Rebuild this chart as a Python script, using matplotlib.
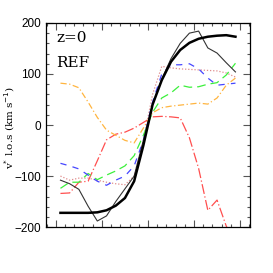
import matplotlib
matplotlib.use("Agg")
import matplotlib.pyplot as plt
from matplotlib.ticker import MultipleLocator, NullFormatter

# sampling positions along the slit
pos = [-1.9, -1.7, -1.5, -1.3, -1.1, -0.9, -0.7, -0.5, -0.3, -0.1,
       0.1, 0.3, 0.5, 0.7, 0.9, 1.1, 1.3, 1.5, 1.7, 1.9]

v_model = [-172, -172, -172, -172, -171, -167, -158, -143, -110, -40,
           40, 88, 124, 147, 161, 169, 173, 175, 176, 173]
v_thin = [-108, -115, -126, -159, -188, -178, -150, -125, -100, -30,
          40, 90, 130, 160, 180, 184, 151, 141, 122, 104]
v_blue = [-75, -80, -86, -98, -110, -118, -108, -100, -80, -30,
          45, 100, 118, 118, 120, 110, 92, 78, 80, 82]
v_green = [-124, -112, -112, -95, -107, -98, -90, -80, -60, -20,
           25, 53, 63, 78, 74, 75, 80, 83, 98, 121]
v_orange = [82, 80, 73, 45, 15, -10, -20, -30, -35, -6,
            24, 34, 37, 39, 41, 43, 41, 53, 78, 92]
v_red = [-134, -133, -112, -110, -70, -29, -18, -14, -6, 5,
         16, 17, 16, 14, -25, -85, -167, -147, -198, -230]
v_pink = [-100, -108, -104, -104, -108, -112, -115, -117, -100, -30,
          60, 115, 112, 110, 109, 108, 107, 106, 102, 94]

fig = plt.figure(figsize=(2.73, 2.73), dpi=100)
ax = fig.add_axes([0.168, 0.168, 0.748, 0.748])

ax.plot(pos, v_pink, color="#e08c8c", lw=0.9, ls=(0, (1, 1.5)))
ax.plot(pos, v_red, color="#ff4f4f", lw=0.9, ls=(0, (8, 2, 1, 2)))
ax.plot(pos, v_orange, color="#ffb540", lw=0.9, ls=(0, (5, 2, 1, 2)))
ax.plot(pos, v_green, color="#3cf03c", lw=0.9, ls=(0, (7, 4)))
ax.plot(pos, v_blue, color="#4646ff", lw=0.9, ls=(0, (5, 5)))
ax.plot(pos, v_thin, color="#333333", lw=0.8)
ax.plot(pos, v_model, color="black", lw=1.8)

ax.set_xlim(-2.217, 2.217)
ax.set_ylim(-200, 200)
ax.xaxis.set_major_locator(MultipleLocator(1))
ax.xaxis.set_minor_locator(MultipleLocator(0.2))
ax.xaxis.set_major_formatter(NullFormatter())
ax.yaxis.set_major_locator(MultipleLocator(100))
ax.yaxis.set_minor_locator(MultipleLocator(20))
ax.tick_params(which="both", direction="in", top=True, right=True, width=0.8,
               colors="#555555", labelcolor="black")
ax.tick_params(which="major", length=5)
ax.tick_params(which="minor", length=2.5)
for lab in ax.get_yticklabels():
    lab.set_family("Liberation Sans")
    lab.set_fontsize(8.5)
for s in ax.spines.values():
    s.set_linewidth(0.9)

ax.set_ylabel(r"v$^{*}$ l.o.s (km s$^{-1}$)", family="DejaVu Serif",
              fontsize=7.5)
ax.yaxis.set_label_coords(-0.14, 0.49)
ax.text(0.05, 0.96, "z=0", transform=ax.transAxes, family="DejaVu Serif",
        fontsize=11, va="top", ha="left")
ax.text(0.05, 0.84, "REF", transform=ax.transAxes, family="DejaVu Serif",
        fontsize=11, va="top", ha="left")

fig.savefig("out.png", dpi=100)
